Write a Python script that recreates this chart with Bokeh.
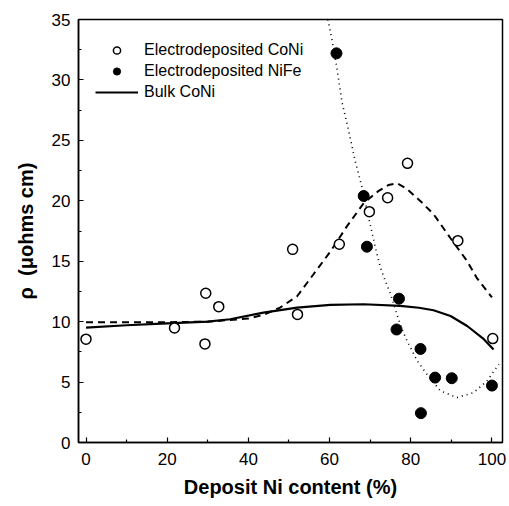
import numpy as np
from bokeh.plotting import figure
from bokeh.models import FixedTicker, Legend, LegendItem, ColumnDataSource, Range1d
from bokeh.embed import file_html
from bokeh.resources import INLINE

# Measured resistivity, electrodeposited CoNi films
coni_ni = [0, 21.8, 29.5, 29.3, 32.7, 50.9, 52.1, 62.4, 69.8, 74.3, 79.2, 91.6, 100.2]
coni_rho = [8.55, 9.48, 12.35, 8.16, 11.24, 15.98, 10.6, 16.4, 19.1, 20.25, 23.1, 16.7, 8.6]

# Measured resistivity, electrodeposited NiFe films
nife_ni = [61.7, 68.4, 69.2, 77.1, 76.5, 82.4, 86.0, 90.1, 100.0, 82.5]
nife_rho = [32.2, 20.4, 16.2, 11.9, 9.35, 7.74, 5.37, 5.32, 4.71, 2.43]

# Bulk CoNi reference curve
bulk_ni = [0, 10, 20, 30, 35.5, 43.7, 52, 60.2, 68.4, 77.4, 82, 85.6, 89.8, 93.9, 98, 100.4]
bulk_rho = [9.5, 9.7, 9.85, 10.0, 10.2, 10.75, 11.16, 11.38, 11.44, 11.3, 11.15, 10.94,
            10.47, 9.64, 8.55, 7.7]

# Trend through the CoNi deposits (dashed)
coni_fit_ni = [0, 10, 20, 30, 40, 44, 47.8, 52, 56, 60.2, 64.3, 68.4, 72, 74.5, 76.6, 79,
               82.4, 85.6, 89.8, 93.9, 96.3, 100]
coni_fit_rho = [9.95, 9.95, 9.95, 10.0, 10.25, 10.6, 11.16, 12.1, 13.9, 15.8, 17.9, 19.8,
                20.8, 21.3, 21.45, 21.0, 19.97, 18.9, 16.9, 15.0, 13.6, 12.0]

# Trend through the NiFe deposits (dotted)
nife_fit_ni = [59.6, 60.6, 61.8, 63.1, 64.7, 66.3, 68, 70, 71.3, 72.5, 73.7, 75, 76.6, 77.8,
               79.1, 81.6, 84, 87.3, 91.4, 95.5, 98.8, 101.7]
nife_fit_rho = [35.0, 33.3, 31.0, 28.1, 25.8, 23.3, 21.1, 18.05, 16.1, 14.5, 13.4, 12.3,
                10.6, 9.4, 8.4, 6.75, 5.65, 4.27, 3.72, 4.13, 5.1, 6.48]

x_ticks = [0, 20, 40, 60, 80, 100]
x_minor = [10, 30, 50, 70, 90]
y_ticks = [0, 5, 10, 15, 20, 25, 30, 35]
y_minor = [2.5, 7.5, 12.5, 17.5, 22.5, 27.5, 32.5]

FONT = "Liberation Sans"

p = figure(width=509, height=506, output_backend="svg", toolbar_location=None,
           x_range=Range1d(-1.85, 102.6), y_range=Range1d(0, 35),
           min_border_left=78, min_border_right=7, min_border_top=19, min_border_bottom=64)
p.xgrid.visible = False
p.ygrid.visible = False
p.outline_line_color = "black"
p.outline_line_width = 1.5
p.background_fill_color = "white"
p.border_fill_color = "white"

for ax in (p.xaxis[0], p.yaxis[0]):
    ax.axis_line_width = 1.5
    ax.major_tick_in = 5
    ax.major_tick_out = 0
    ax.minor_tick_in = 3
    ax.minor_tick_out = 0
    ax.major_tick_line_width = 1.2
    ax.minor_tick_line_width = 1.2
    ax.major_label_text_font = FONT
    ax.major_label_text_font_size = "17px"
    ax.major_label_text_color = "black"
    ax.axis_label_text_font = FONT
    ax.axis_label_text_font_size = "20px"
    ax.axis_label_text_font_style = "bold"
    ax.axis_label_text_color = "black"

p.xaxis.ticker = FixedTicker(ticks=x_ticks, minor_ticks=x_minor)
p.yaxis.ticker = FixedTicker(ticks=y_ticks, minor_ticks=y_minor)
p.xaxis.axis_label = "Deposit Ni content (%)"
p.yaxis.axis_label = "ρ\u00a0\u00a0(μohms cm)"
p.xaxis.major_label_standoff = 10
p.yaxis.major_label_standoff = 8
p.xaxis.axis_label_standoff = 8
p.yaxis.axis_label_standoff = 12

# Curves
p.line(bulk_ni, bulk_rho, line_color="black", line_width=2.2)
p.line(coni_fit_ni, coni_fit_rho, line_color="black", line_width=2, line_dash="7 5")
p.line(nife_fit_ni, nife_fit_rho, line_color="black", line_width=1.6, line_dash="1 4")

# Data points
p.scatter(coni_ni, coni_rho, marker="circle", size=10, fill_color="white",
          line_color="black", line_width=1.5)
p.scatter(nife_ni, nife_rho, marker="circle", size=11, fill_color="black",
          line_color="black", line_width=1)

# Legend swatches (smaller markers than in the plot body)
nan_src = ColumnDataSource(data=dict(x=[np.nan], y=[np.nan]))
leg_open = p.scatter("x", "y", source=nan_src, marker="circle", size=8,
                     fill_color="white", line_color="black", line_width=1.5)
leg_fill = p.scatter("x", "y", source=nan_src, marker="circle", size=9,
                     fill_color="black", line_color="black")
leg_line = p.line("x", "y", source=nan_src, line_color="black", line_width=2.2)

legend = Legend(items=[
    LegendItem(label="Electrodeposited CoNi", renderers=[leg_open]),
    LegendItem(label="Electrodeposited NiFe", renderers=[leg_fill]),
    LegendItem(label="Bulk CoNi", renderers=[leg_line]),
], location=(17, 341))
legend.border_line_color = None
legend.background_fill_alpha = 0
legend.padding = 0
legend.margin = 0
legend.spacing = 3
legend.glyph_width = 43
legend.glyph_height = 18
legend.label_height = 18
legend.label_standoff = 6
legend.label_text_font = FONT
legend.label_text_font_size = "16px"
legend.label_text_color = "black"
p.add_layout(legend, "center")

open("out.html", "w").write(file_html(p, INLINE))
